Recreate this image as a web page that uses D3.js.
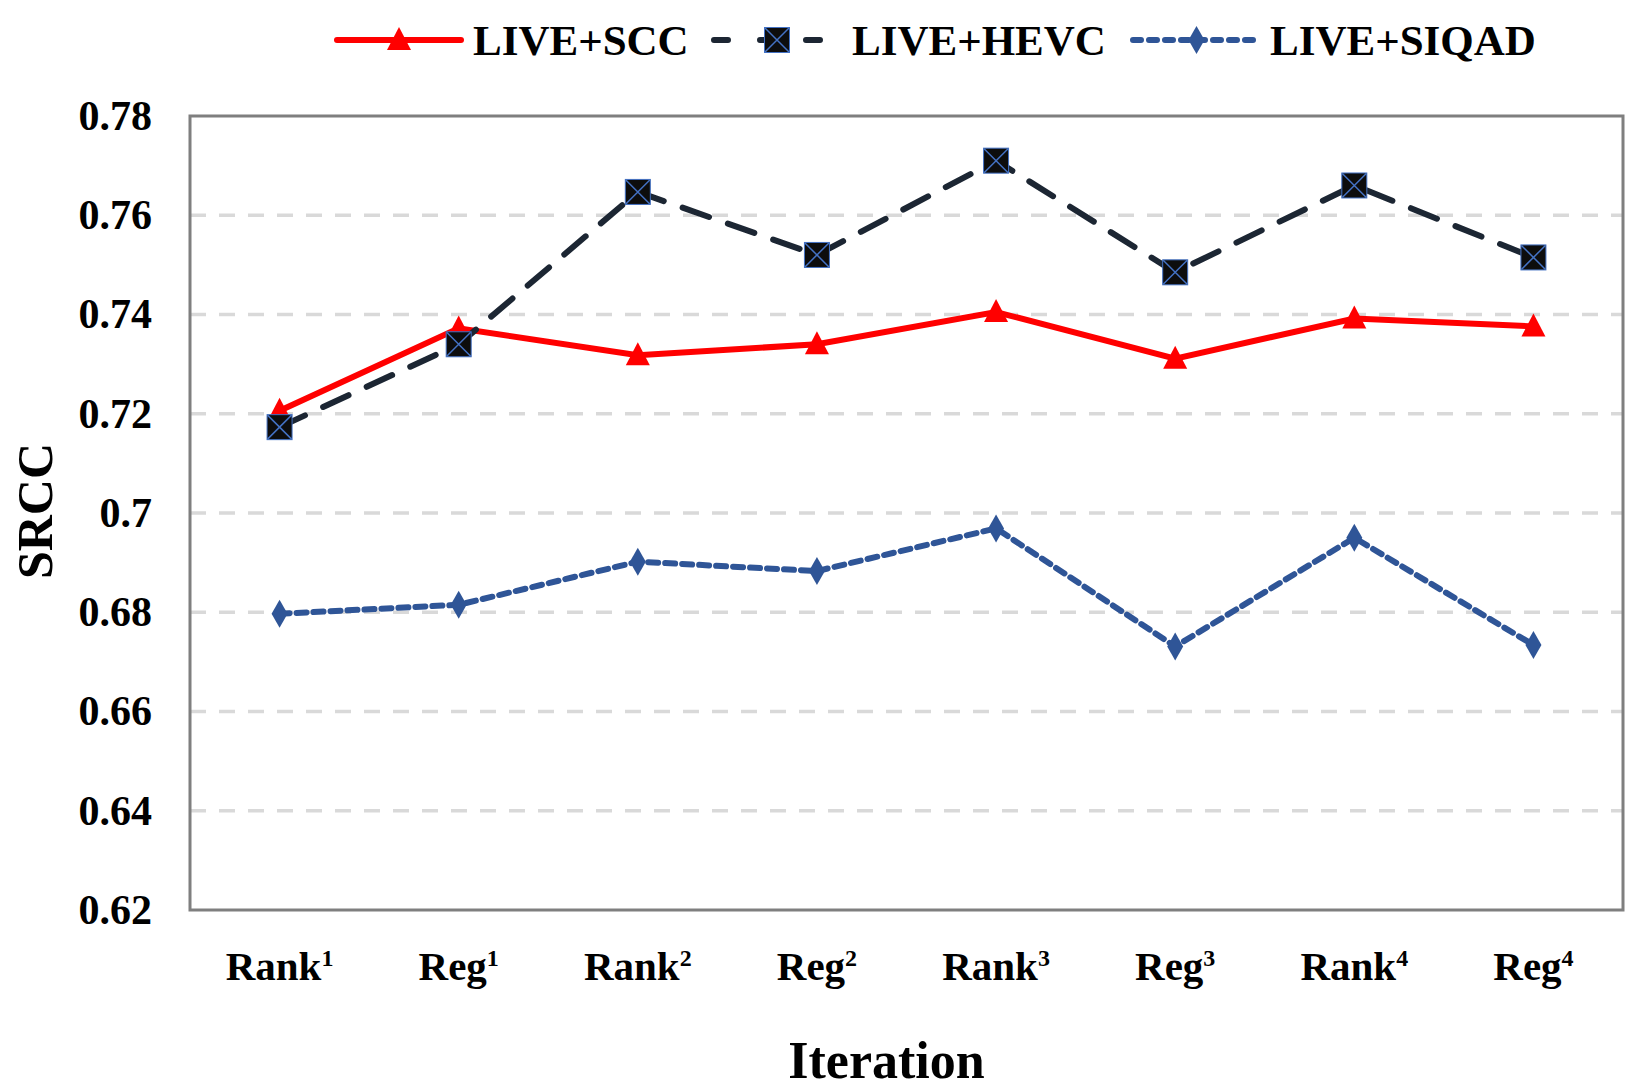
<!DOCTYPE html>
<html>
<head>
<meta charset="utf-8">
<script src="https://cdn.jsdelivr.net/npm/d3@7"></script>
<style>
  html, body { margin: 0; padding: 0; background: #ffffff; }
  svg { display: block; }
  text { font-family: "Liberation Serif", "Times New Roman", serif; font-weight: bold; fill: #000; }
</style>
</head>
<body>
<svg id="chart" width="1640" height="1088"></svg>
<script>
  const ITER_BASE = ["Rank", "Reg", "Rank", "Reg", "Rank", "Reg", "Rank", "Reg"];
  const ITER_SUP = ["1", "1", "2", "2", "3", "3", "4", "4"];
  const Y_TICKS = [0.62, 0.64, 0.66, 0.68, 0.7, 0.72, 0.74, 0.76, 0.78];

  const liveScc = [0.7206, 0.7372, 0.7318, 0.734, 0.7405, 0.7311, 0.7392, 0.7376];
  const liveHevc = [0.7173, 0.734, 0.7647, 0.752, 0.771, 0.7485, 0.766, 0.7515];
  const liveSiqad = [0.6797, 0.6815, 0.6902, 0.6883, 0.6969, 0.6731, 0.695, 0.6734];

  const SERIES = [
    { name: "LIVE+SCC", values: liveScc, color: "#ff0000", dash: null, marker: "triangle" },
    { name: "LIVE+HEVC", values: liveHevc, color: "#1c2633", dash: "28 20", marker: "square" },
    { name: "LIVE+SIQAD", values: liveSiqad, color: "#2f5597", dash: "10 7", marker: "diamond" },
  ];

  const W = 1640, H = 1088;
  const margin = { left: 190, right: 17, top: 116, bottom: 178 };
  const innerW = W - margin.left - margin.right;
  const innerH = H - margin.top - margin.bottom;

  const svg = d3.select("#chart");
  const g = svg.append("g").attr("transform", `translate(${margin.left},${margin.top})`);

  const x = d3.scaleBand().domain(d3.range(ITER_BASE.length)).range([0, innerW]);
  const y = d3.scaleLinear().domain([0.62, 0.78]).range([innerH, 0]);
  const cx = (i) => x(i) + x.bandwidth() / 2;

  // grid
  g.append("g")
    .selectAll("line")
    .data(Y_TICKS.slice(1, -1))
    .join("line")
    .attr("x1", 0)
    .attr("x2", innerW)
    .attr("y1", (d) => y(d))
    .attr("y2", (d) => y(d))
    .attr("stroke", "#d9d9d9")
    .attr("stroke-width", 3.5)
    .attr("stroke-dasharray", "16 13");

  // frame
  g.append("rect")
    .attr("width", innerW)
    .attr("height", innerH)
    .attr("fill", "none")
    .attr("stroke", "#7f7f7f")
    .attr("stroke-width", 3);

  // y axis
  const yAxis = g.append("g").call(
    d3.axisLeft(y).tickValues(Y_TICKS).tickSize(0).tickPadding(38)
      .tickFormat((d) => String(+d.toFixed(2)))
  );
  yAxis.select(".domain").remove();
  yAxis.selectAll("text")
    .style("font-family", "Liberation Serif, serif")
    .style("font-weight", "bold")
    .style("font-size", "42px")
    .attr("fill", "#000");

  // x labels
  const xl = g.append("g")
    .selectAll("text")
    .data(ITER_BASE)
    .join("text")
    .attr("x", (d, i) => cx(i))
    .attr("y", innerH + 70)
    .attr("text-anchor", "middle")
    .style("font-size", "41px");
  xl.append("tspan").text((d) => d);
  xl.append("tspan")
    .attr("dy", -14)
    .style("font-size", "24px")
    .text((d, i) => ITER_SUP[i]);

  // axis titles
  svg.append("text")
    .attr("x", margin.left + innerW / 2 - 20)
    .attr("y", 1078)
    .attr("text-anchor", "middle")
    .style("font-size", "52px")
    .text("Iteration");

  svg.append("text")
    .attr("transform", `translate(52,${margin.top + innerH / 2 - 2}) rotate(-90)`)
    .attr("text-anchor", "middle")
    .style("font-size", "50px")
    .text("SRCC");

  const line = d3.line().x((d, i) => cx(i)).y((d) => y(d));

  function drawMarker(sel, s, px, py) {
    if (s.marker === "triangle") {
      sel.append("path")
        .attr("d", `M${px},${py - 13}L${px + 12},${py + 10}L${px - 12},${py + 10}Z`)
        .attr("fill", s.color);
    } else if (s.marker === "square") {
      sel.append("rect")
        .attr("x", px - 12.5).attr("y", py - 12.5)
        .attr("width", 25).attr("height", 25)
        .attr("fill", "#0d0d0d")
        .attr("stroke", "#4472c4").attr("stroke-width", 1);
      sel.append("path")
        .attr("d", `M${px - 12},${py - 12}L${px + 12},${py + 12}M${px + 12},${py - 12}L${px - 12},${py + 12}`)
        .attr("stroke", "#4472c4").attr("stroke-width", 1.5);
    } else {
      sel.append("path")
        .attr("d", `M${px},${py - 14}L${px + 8},${py}L${px},${py + 14}L${px - 8},${py}Z`)
        .attr("fill", s.color);
    }
  }

  SERIES.forEach((s) => {
    const sg = g.append("g");
    sg.append("path")
      .datum(s.values)
      .attr("d", line)
      .attr("fill", "none")
      .attr("stroke", s.color)
      .attr("stroke-width", 6)
      .attr("stroke-linecap", s.dash ? "round" : "butt")
      .attr("stroke-dasharray", s.dash);
    s.values.forEach((v, i) => drawMarker(sg, s, cx(i), y(v)));
  });

  // legend
  const LEG = [
    { x1: 337, x2: 461, tx: 473 },
    { x1: 714, x2: 840, tx: 852 },
    { x1: 1133, x2: 1260, tx: 1270 },
  ];
  const ly = 40;
  SERIES.forEach((s, i) => {
    const p = LEG[i];
    const lg = svg.append("g");
    lg.append("line")
      .attr("x1", p.x1).attr("x2", p.x2)
      .attr("y1", ly).attr("y2", ly)
      .attr("stroke", s.color)
      .attr("stroke-width", 6)
      .attr("stroke-linecap", "round")
      .attr("stroke-dasharray", s.dash ? (i === 1 ? "14 32" : "8 8") : null);
    drawMarker(lg, s, (p.x1 + p.x2) / 2, ly);
    lg.append("text")
      .attr("x", p.tx)
      .attr("y", ly + 15)
      .style("font-size", "43px")
      .text(s.name);
  });
</script>
</body>
</html>
